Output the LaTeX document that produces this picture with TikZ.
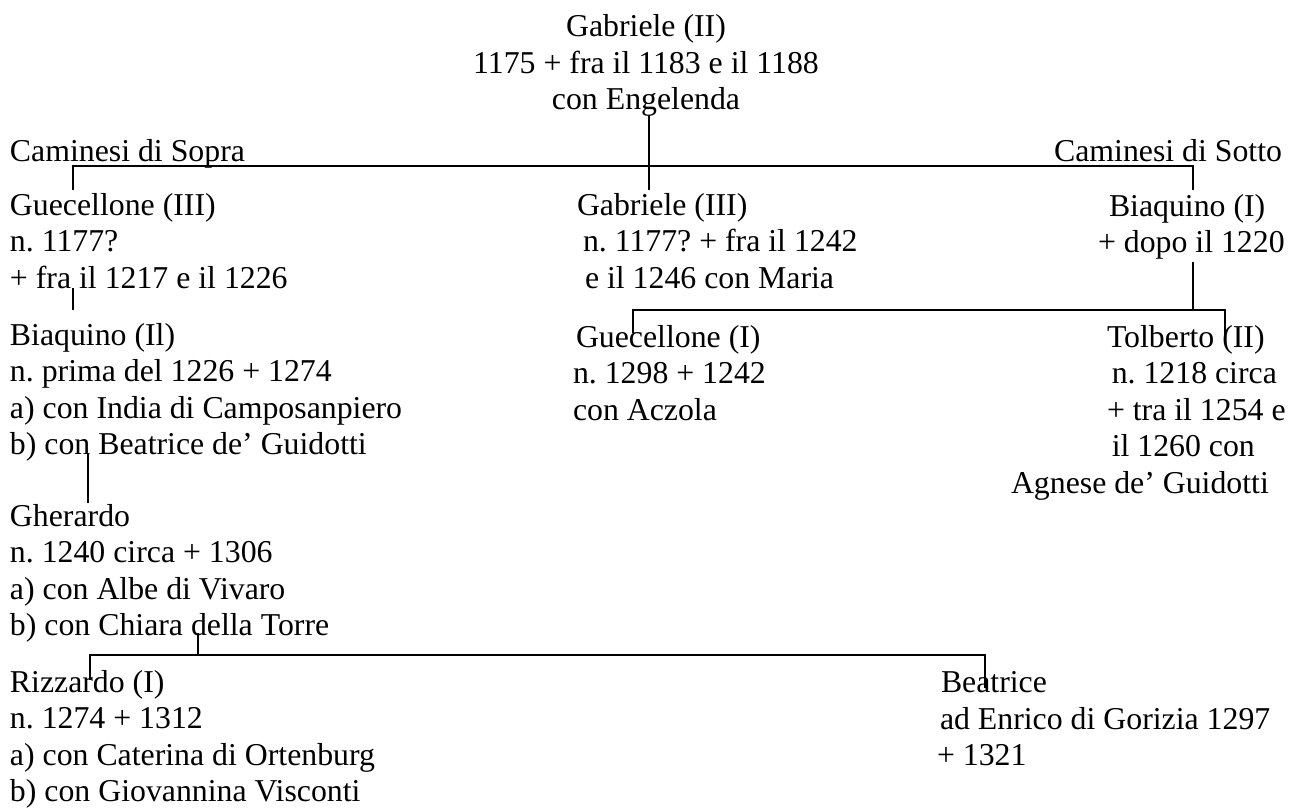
\documentclass[tikz,border=0pt]{standalone}
\usepackage{fontspec}
\setmainfont{Liberation Serif}
\newcommand{\blk}[2]{\begin{tabular}[t]{@{}#1@{}}#2\end{tabular}}
\frenchspacing
\begin{document}
\begin{tikzpicture}[x=0.5pt,y=-0.5pt,
  txt/.style={inner sep=0pt, outer sep=0pt, font=\fontsize{15.9pt}{18.3pt}\selectfont},
  link/.style={line width=1.1pt, line join=miter}]
\useasboundingbox (0,0) rectangle (1302,808);

% text blocks (anchored at the baseline of the first line)
\node[txt, anchor=base] (gab2) at (646,36.7)
  {\blk{c}{Gabriele (II)\\1175 + fra il 1183 e il 1188\\con Engelenda}};
\node[txt, anchor=base west] (sopra) at (10,162) {Caminesi di Sopra};
\node[txt, anchor=base east] (sotto) at (1282,162) {Caminesi di Sotto};

\node[txt, anchor=base west] (guec3) at (10,215)
  {\blk{l}{Guecellone (III)\\n. 1177?\\+ fra il 1217 e il 1226}};
\node[txt, anchor=base west] (gab3) at (577,215)
  {\blk{l}{Gabriele (III)\\\hspace*{3pt}n. 1177? + fra il 1242\\\hspace*{4pt}e il 1246 con Maria}};
\node[txt, anchor=base west] (biaq1) at (1098,216)
  {\blk{l}{\hspace*{5.5pt}Biaquino (I)\\+ dopo il 1220}};

\node[txt, anchor=base west] (biaq2) at (10,345)
  {\blk{l}{Biaquino (Il)\\n. prima del 1226 + 1274\\a) con India di Camposanpiero\\b) con Beatrice de’ Guidotti}};
\node[txt, anchor=base west] (guec1) at (573,347)
  {\blk{l}{\hspace*{1.5pt}Guecellone (I)\\n. 1298 + 1242\\con Aczola}};
\node[txt, anchor=base west] (tolb) at (1011,347)
  {\blk{l}{\hspace*{48pt}Tolberto (II)\\\hspace*{50.4pt}n. 1218 circa\\\hspace*{48pt}+ tra il 1254 e\\\hspace*{50.4pt}il 1260 con\\Agnese de’ Guidotti}};

\node[txt, anchor=base west] (gher) at (10,526)
  {\blk{l}{Gherardo\\n. 1240 circa + 1306\\a) con Albe di Vivaro\\b) con Chiara della Torre}};

\node[txt, anchor=base west] (rizz) at (10,692)
  {\blk{l}{Rizzardo (I)\\n. 1274 + 1312\\a) con Caterina di Ortenburg\\b) con Giovannina Visconti}};
\node[txt, anchor=base west] (beat) at (937,692.7)
  {\blk{l}{\hspace*{2pt}Beatrice\\\hspace*{1.5pt}ad Enrico di Gorizia 1297\\+ 1321}};

% connector points
\coordinate (gab2-d) at (649,115);
\coordinate (gab3-u) at (649,190);
\coordinate (guec3-u) at (72.7,190);
\coordinate (biaq1-u) at (1192.7,190);
\coordinate (bus1-l) at (72.7,166);
\coordinate (bus1-r) at (1192.7,166);

\coordinate (guec3-d) at (72.7,288);
\coordinate (biaq2-u) at (72.7,310);

\coordinate (biaq1-d) at (1192.7,262);
\coordinate (bus2-m) at (1192.7,310);
\coordinate (bus2-l) at (632.7,310);
\coordinate (bus2-r) at (1225.3,310);
\coordinate (guec1-u) at (632.7,333);
\coordinate (tolb-u) at (1225.3,335);

\coordinate (biaq2-d) at (88.3,454);
\coordinate (gher-u) at (88.3,503);

\coordinate (gher-d) at (198,633);
\coordinate (bus3-m) at (198,655);
\coordinate (bus3-l) at (90,655);
\coordinate (bus3-r) at (985,655);
\coordinate (rizz-u) at (90,680);
\coordinate (beat-u) at (985,688);

% connectors
\draw[link] (gab2-d) -- (gab3-u);
\draw[link] (guec3-u) -- (bus1-l) -- (bus1-r) -- (biaq1-u);
\draw[link] (guec3-d) -- (biaq2-u);
\draw[link] (biaq1-d) -- (bus2-m);
\draw[link] (guec1-u) -- (bus2-l) -- (bus2-r) -- (tolb-u);
\draw[link] (biaq2-d) -- (gher-u);
\draw[link] (gher-d) -- (bus3-m);
\draw[link] (rizz-u) -- (bus3-l) -- (bus3-r) -- (beat-u);
\end{tikzpicture}
\end{document}
